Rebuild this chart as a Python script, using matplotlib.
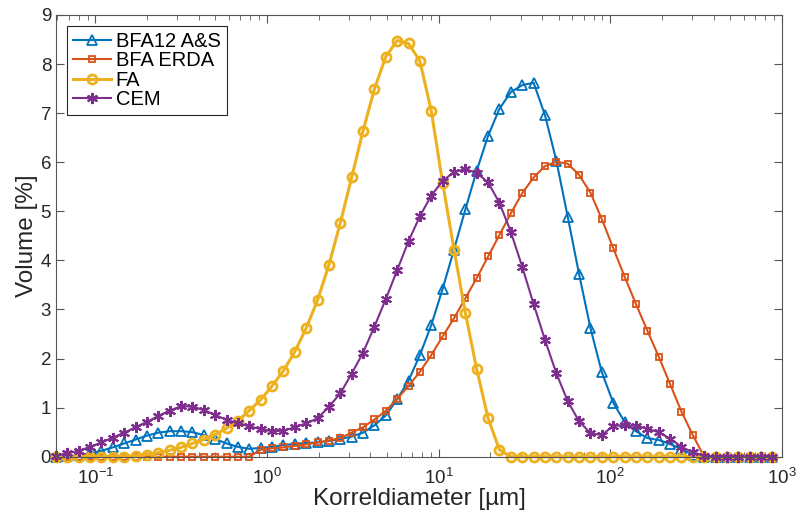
import numpy as np
import matplotlib
matplotlib.use("Agg")
import matplotlib.pyplot as plt
from matplotlib.ticker import LogLocator, MultipleLocator

plt.rcParams['font.family'] = ['Liberation Sans', 'DejaVu Sans']
plt.rcParams['mathtext.fontset'] = 'custom'
plt.rcParams['mathtext.rm'] = 'Liberation Sans'

# Korreldiameter (um): 64 logaritmische klassen van 0.0589 tot 880 um
diameter = np.geomspace(0.0589, 880, 64)

bfa12_as = [0.00, 0.01, 0.03, 0.07, 0.12, 0.19, 0.27, 0.35, 0.43, 0.49,
            0.52, 0.52, 0.50, 0.44, 0.36, 0.27, 0.20, 0.16, 0.18, 0.20,
            0.24, 0.26, 0.28, 0.29, 0.32, 0.36, 0.41, 0.49, 0.64, 0.84,
            1.17, 1.55, 2.07, 2.68, 3.42, 4.22, 5.04, 5.83, 6.54, 7.09,
            7.43, 7.57, 7.62, 6.96, 6.03, 4.89, 3.72, 2.62, 1.72, 1.10,
            0.71, 0.52, 0.38, 0.34, 0.26, 0.15, 0.04, 0.00, 0.00, 0.00,
            0.00, 0.00, 0.00, 0.00]

bfa_erda = [0.00, 0.00, 0.00, 0.00, 0.00, 0.00, 0.00, 0.00, 0.00, 0.00,
            0.00, 0.00, 0.00, 0.00, 0.00, 0.00, 0.00, 0.00, 0.14, 0.17,
            0.19, 0.22, 0.25, 0.29, 0.33, 0.38, 0.49, 0.60, 0.76, 0.93,
            1.18, 1.44, 1.73, 2.07, 2.45, 2.82, 3.23, 3.64, 4.08, 4.52,
            4.96, 5.37, 5.69, 5.92, 6.01, 5.97, 5.74, 5.38, 4.84, 4.25,
            3.67, 3.11, 2.57, 2.04, 1.48, 0.92, 0.44, 0.00, 0.00, 0.00,
            0.00, 0.00, 0.00, 0.00]

fa = [0.00, 0.00, 0.00, 0.00, 0.00, 0.00, 0.00, 0.02, 0.04, 0.08,
      0.13, 0.19, 0.27, 0.35, 0.45, 0.58, 0.73, 0.94, 1.16, 1.44,
      1.75, 2.14, 2.62, 3.19, 3.91, 4.76, 5.69, 6.64, 7.49, 8.15,
      8.48, 8.42, 8.06, 7.05, 5.58, 4.22, 2.93, 1.78, 0.78, 0.14,
      0.00, 0.00, 0.00, 0.00, 0.00, 0.00, 0.00, 0.00, 0.00, 0.00,
      0.00, 0.00, 0.00, 0.00, 0.00, 0.00, 0.00, 0.00, 0.00, 0.00,
      0.00, 0.00, 0.00, 0.00]

cem = [0.02, 0.07, 0.12, 0.20, 0.29, 0.39, 0.49, 0.60, 0.71, 0.83,
       0.94, 1.03, 1.02, 0.95, 0.85, 0.75, 0.68, 0.62, 0.56, 0.52,
       0.53, 0.60, 0.68, 0.78, 1.02, 1.29, 1.69, 2.12, 2.65, 3.21,
       3.80, 4.39, 4.90, 5.32, 5.62, 5.80, 5.86, 5.78, 5.59, 5.17,
       4.58, 3.87, 3.11, 2.38, 1.70, 1.13, 0.72, 0.48, 0.44, 0.63,
       0.64, 0.63, 0.57, 0.50, 0.37, 0.20, 0.09, 0.02, 0.00, 0.00,
       0.00, 0.00, 0.00, 0.00]

fig = plt.figure(figsize=(8.01, 5.15), dpi=100)
ax = fig.add_axes([0.0699, 0.1132, 0.9063, 0.8577])

ax.plot(diameter, bfa12_as, color='#0072BD', lw=1.5, marker='^', ms=6.5,
        mfc='none', mew=1.3, label='BFA12 A&S', clip_on=False)
ax.plot(diameter, bfa_erda, color='#D95319', lw=1.5, marker='s', ms=4.5,
        mfc='none', mew=1.3, label='BFA ERDA', clip_on=False)
ax.plot(diameter, fa, color='#EDB120', lw=2.2, marker='o', ms=6.5,
        mfc='none', mew=2.0, label='FA', clip_on=False)
ax.plot(diameter, cem, color='#7E2F8E', lw=1.5, marker=(6, 2, 0), ms=8,
        mew=1.5, label='CEM', clip_on=False)

ax.set_xscale('log')
ax.set_xlim(diameter[0], 1000)
ax.set_ylim(0, 9)
ax.yaxis.set_major_locator(MultipleLocator(1))
ax.xaxis.set_major_locator(LogLocator(base=10, numticks=10))
ax.xaxis.set_minor_locator(LogLocator(base=10, subs=np.arange(2, 10), numticks=20))

for s in ax.spines.values():
    s.set_color('#555555')
    s.set_linewidth(0.8)
ax.tick_params(which='both', direction='in', top=True, right=True,
               colors='#555555', labelcolor='#262626', labelsize=13.5)
ax.tick_params(which='major', length=6, width=0.8)
ax.tick_params(which='minor', length=3.5, width=0.6)
ax.tick_params(axis='x', which='major', pad=8)

ax.set_xlabel('Korreldiameter [µm]', fontsize=17.5, color='#262626', labelpad=0)
ax.set_ylabel('Volume [%]', fontsize=17.5, color='#262626', labelpad=2)

leg = ax.legend(loc='upper left', bbox_to_anchor=(0.0156, 0.975), borderaxespad=0,
                fontsize=14.5, frameon=True, fancybox=False, framealpha=1,
                edgecolor='#262626', handlelength=1.85, handletextpad=0.25,
                labelspacing=0.02, borderpad=0.3)
leg.get_frame().set_linewidth(0.8)

fig.savefig('out.png', dpi=100)
